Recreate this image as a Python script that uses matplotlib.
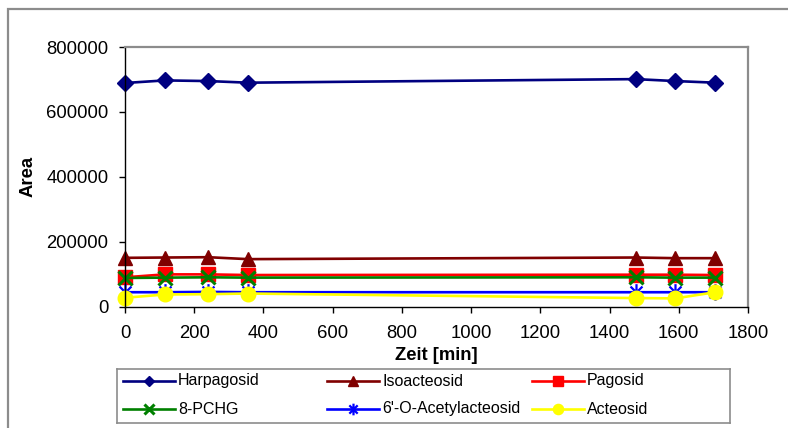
import matplotlib
matplotlib.use("Agg")
import matplotlib.pyplot as plt
from matplotlib.path import Path
from matplotlib.patches import Rectangle

plt.rcParams['font.family'] = ['Liberation Sans', 'DejaVu Sans']

# Sampling times (min)
zeit = [0, 115, 240, 355, 1475, 1590, 1705]

# Peak areas per compound
harpagosid = [689000, 697000, 695000, 690000, 701000, 695000, 690000]
isoacteosid = [150000, 151000, 152000, 146000, 151000, 149000, 149000]
pagosid = [90000, 99000, 99000, 97000, 98000, 98000, 97000]
pchg = [88000, 89000, 90000, 89000, 90000, 89000, 89000]
acetylacteosid = [44000, 44000, 45000, 44000, 44000, 44000, 44000]
acteosid = [27000, 37000, 38000, 40000, 26000, 25000, 44000]

labels = ["Harpagosid", "Isoacteosid", "Pagosid", "8-PCHG",
          "6'-O-Acetylacteosid", "Acteosid"]
x_ticks = [0, 200, 400, 600, 800, 1000, 1200, 1400, 1600, 1800]
y_ticks = [0, 200000, 400000, 600000, 800000]

# star marker: X with a vertical bar
star = Path([(-1, -1), (1, 1), (-1, 1), (1, -1), (0, -1.4), (0, 1.4)],
            [Path.MOVETO, Path.LINETO, Path.MOVETO, Path.LINETO,
             Path.MOVETO, Path.LINETO])

styles = [
    dict(color="#000080", marker="D", ms=8, mfc="#000080", mec="#000080"),
    dict(color="#800000", marker="^", ms=10.5, mfc="#800000", mec="#800000"),
    dict(color="#FF0000", marker="s", ms=10.5, mfc="#FF0000", mec="#FF0000"),
    dict(color="#008000", marker="x", ms=10.5, mec="#008000", mew=2.2),
    dict(color="#0000FF", marker=star, ms=12, mec="#0000FF", mew=1.6),
    dict(color="#FFFF00", marker="o", ms=10.5, mfc="#FFFF00", mec="#FFFF00"),
]
series = [harpagosid, isoacteosid, pagosid, pchg, acetylacteosid, acteosid]

W, H = 788, 428
fig = plt.figure(figsize=(W / 100, H / 100), dpi=100)

# outer chart frame (left and top edges visible)
fig.add_artist(Rectangle((8 / W, -0.1), 1.2, 1 - 9 / H + 0.1,
                         transform=fig.transFigure, fill=False,
                         edgecolor="#8c8c8c", lw=1.6))

left, right, top, bottom = 125, 748, 47, 306.5
ax = fig.add_axes([left / W, 1 - bottom / H, (right - left) / W,
                   (bottom - top) / H])

for vals, st in zip(series, styles):
    ax.plot(zeit, vals, lw=1.9, clip_on=False, **st)

ax.set_xlim(0, 1800)
ax.set_ylim(0, 800000)
ax.set_xticks(x_ticks)
ax.set_yticks(y_ticks)
ax.set_xticklabels([str(v) for v in x_ticks])
ax.set_yticklabels([str(v) for v in y_ticks])
ax.tick_params(axis="both", direction="out", length=4, width=1,
               labelsize=13.3, colors="black")
ax.tick_params(axis="x", pad=9)
ax.tick_params(axis="y", pad=8)

ax.spines["left"].set_color("black")
ax.spines["bottom"].set_color("black")
ax.spines["top"].set_color("#8c8c8c")
ax.spines["right"].set_color("#8c8c8c")
ax.spines["top"].set_linewidth(1.6)
ax.spines["right"].set_linewidth(1.6)
ax.spines["left"].set_linewidth(1)
ax.spines["bottom"].set_linewidth(1)

fig.text(28 / W, 1 - 176 / H, "Area", rotation=90, fontsize=13.3,
         fontweight="bold", ha="center", va="center")
fig.text((left + right) / 2 / W, 1 - 355 / H, "Zeit [min]", fontsize=13.3,
         fontweight="bold", ha="center", va="center")

# legend panel
lx0, lx1, ly0, ly1 = 117, 730, 369, 423
lax = fig.add_axes([lx0 / W, 1 - ly1 / H, (lx1 - lx0) / W, (ly1 - ly0) / H])
lax.set_xlim(0, lx1 - lx0)
lax.set_ylim(ly1 - ly0, 0)
lax.set_xticks([])
lax.set_yticks([])
for s in lax.spines.values():
    s.set_color("#8c8c8c")
    s.set_linewidth(1.2)

col_x = [6, 210, 415]
row_y = [12, 40]
for i, (lab, st) in enumerate(zip(labels, styles)):
    r, c = divmod(i, 3)
    x0 = col_x[c]
    y = row_y[r]
    lst = dict(st)
    lst["ms"] = st["ms"] * 0.7
    lax.plot([x0, x0 + 52], [y, y], lw=1.9, markevery=[], **lst)
    lax.plot([x0 + 26], [y], lw=0, **lst)
    lax.text(x0 + 55, y, lab, fontsize=11.5, ha="left", va="center")

fig.savefig("out.png", dpi=100)
